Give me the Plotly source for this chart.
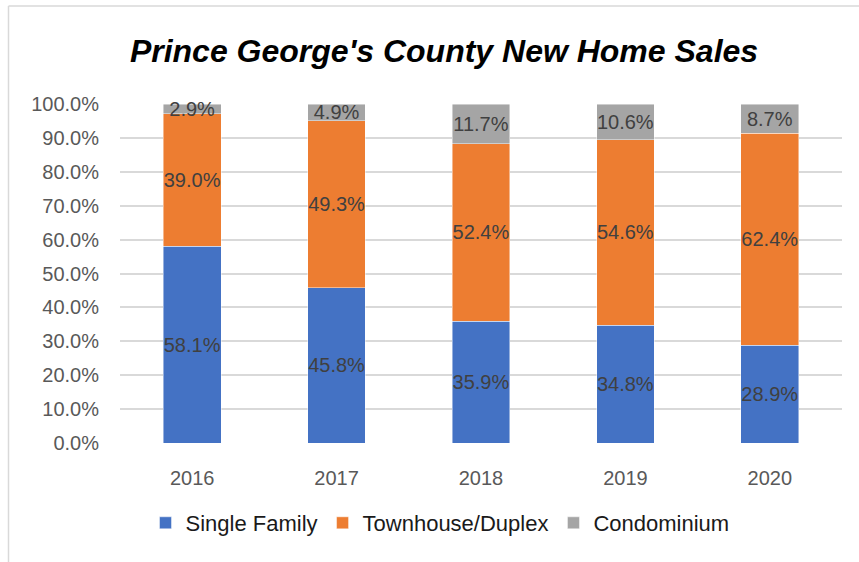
import plotly.graph_objects as go

years = ["2016", "2017", "2018", "2019", "2020"]
single_family = [58.1, 45.8, 35.9, 34.8, 28.9]
townhouse_duplex = [39.0, 49.3, 52.4, 54.6, 62.4]
condominium = [2.9, 4.9, 11.7, 10.6, 8.7]
series_names = ["Single Family", "Townhouse/Duplex", "Condominium"]
series_colors = ["#4472C4", "#ED7D31", "#A5A5A5"]
y_tick_values = [0, 10, 20, 30, 40, 50, 60, 70, 80, 90, 100]
y_tick_labels = ["0.0%", "10.0%", "20.0%", "30.0%", "40.0%", "50.0%",
                 "60.0%", "70.0%", "80.0%", "90.0%", "100.0%"]
title_text = "Prince George's County New Home Sales"

W, H = 859, 562
ML, MR, MT, MB = 120, 17, 104, 119
PW = W - ML - MR
PH = H - MT - MB

fig = go.Figure()
for name, vals, col in zip(series_names, [single_family, townhouse_duplex, condominium], series_colors):
    fig.add_trace(go.Bar(
        x=years, y=vals, name=name,
        marker=dict(color=col, line=dict(color="rgba(255,255,255,0.6)", width=0.75)),
        texttemplate="%{y:.1f}%", textposition="inside", insidetextanchor="middle",
        constraintext="none", textangle=0,
        textfont=dict(family="Liberation Sans", size=20, color="#404040"),
        cliponaxis=False,
    ))

def px_x(p):
    return (p - ML) / PW

def px_y(p):
    return (H - MB - p) / PH

border = "#D9D9D9"
shapes = [
    dict(type="line", xref="paper", yref="paper", x0=px_x(8.5), x1=px_x(859), y0=px_y(6), y1=px_y(6),
         line=dict(color=border, width=1.5)),
    dict(type="line", xref="paper", yref="paper", x0=px_x(8.5), x1=px_x(8.5), y0=px_y(6), y1=px_y(562),
         line=dict(color=border, width=1.5)),
]

fig.update_layout(
    width=W, height=H,
    margin=dict(l=ML, r=MR, t=MT, b=MB, autoexpand=False),
    barmode="stack", bargap=0.6,
    plot_bgcolor="white", paper_bgcolor="white",
    title=dict(text="<b><i>" + title_text + "</i></b>", x=444 / W, xanchor="center",
               y=1 - 51 / H, yanchor="middle",
               font=dict(family="Liberation Sans", size=32, color="#000000")),
    legend=dict(orientation="h", x=px_x(440), xanchor="center", y=px_y(523), yanchor="middle",
                font=dict(family="Liberation Sans", size=22, color="#1A1A1A"), traceorder="normal"),
    shapes=shapes,
    showlegend=True,
)
fig.update_yaxes(range=[0, 100], tickvals=y_tick_values, ticktext=y_tick_labels,
                 showgrid=True, gridcolor="#D9D9D9", gridwidth=1.5, zeroline=False, showline=False,
                 tickfont=dict(family="Liberation Sans", size=20, color="#595959"),
                 ticklabelstandoff=20)
fig.update_xaxes(showgrid=False, showline=False, zeroline=False,
                 tickfont=dict(family="Liberation Sans", size=20, color="#595959"),
                 ticklabelstandoff=21)

fig.write_html("out.html", config={"displayModeBar": False},
               post_script="document.body.style.margin='0';")
